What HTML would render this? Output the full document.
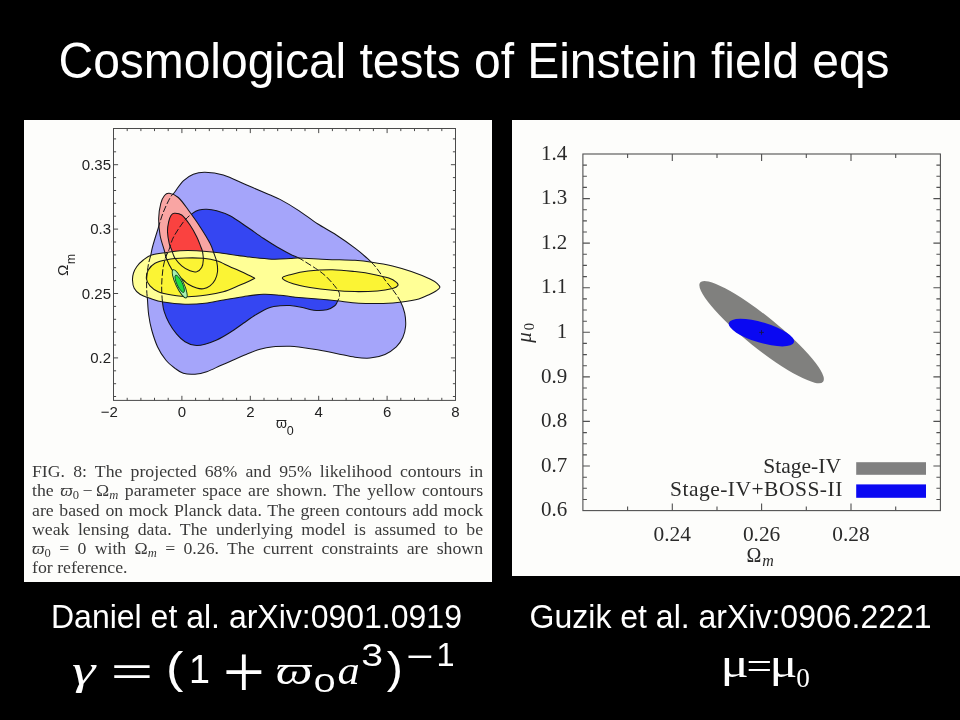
<!DOCTYPE html>
<html lang="en"><head><meta charset="utf-8"><title>Cosmological tests of Einstein field eqs</title>
<style>
html,body{margin:0;padding:0;background:#000;}
body{width:960px;height:720px;position:relative;overflow:hidden;font-family:"Liberation Sans",sans-serif;}
.abs{position:absolute;white-space:nowrap;}
#title{letter-spacing:-0.035px;left:58.5px;top:34.6px;font-size:48px;line-height:54px;color:#fff;transform:scaleY(1.055);transform-origin:0 43.64px;}
.cite{font-size:32px;line-height:36px;color:#fff;transform:scaleY(1.035);transform-origin:0 29.09px;}
#cap{left:32px;top:461.5px;width:413.8px;font-family:"Liberation Serif",serif;font-size:16.3px;line-height:19.25px;color:#3a3a3a;white-space:normal;transform:scaleX(1.09);transform-origin:0 0;will-change:transform;}
#cap div{text-align:justify;text-align-last:justify;white-space:nowrap;height:19.25px;}
#cap div.last{text-align:left;text-align-last:left;}
#cap sub{font-size:11.5px;vertical-align:-2.5px;line-height:0;}
#cap i{font-style:italic;}
svg{position:absolute;left:0;top:0;will-change:transform;}
svg text{font-family:"Liberation Sans",sans-serif;}
.ser{font-family:"Liberation Serif",serif !important;}
</style></head><body>

<svg width="960" height="720" viewBox="0 0 960 720">
<rect x="24" y="120" width="468" height="462" fill="#fdfdfb"/>
<rect x="512" y="120" width="448" height="456" fill="#fdfdfb"/>
<g id="leftchart">
<clipPath id="cl"><rect x="113.5" y="128.5" width="342" height="272"/></clipPath>
<g clip-path="url(#cl)">
<path d="M205.0 172.2 C210.0 172.3 216.4 172.9 223.3 175.0 C230.2 177.1 239.2 181.8 246.7 185.0 C254.2 188.2 262.8 191.8 268.3 194.2 C273.9 196.6 274.9 196.7 280.0 199.4 C285.1 202.1 292.6 206.5 298.8 210.6 C305.1 214.7 311.2 219.7 317.5 223.8 C323.8 227.9 330.1 230.9 336.3 235.0 C342.6 239.1 350.0 244.3 355.0 248.1 C360.0 251.8 362.9 254.4 366.3 257.5 C369.7 260.6 372.5 263.1 375.6 266.9 C378.7 270.6 382.2 276.2 385.0 280.0 C387.8 283.8 390.0 286.0 392.5 289.4 C395.0 292.8 398.0 296.7 400.0 300.6 C402.0 304.6 403.8 308.8 404.7 313.1 C405.6 317.4 405.9 322.2 405.6 326.3 C405.3 330.4 404.4 334.1 402.8 337.5 C401.2 340.9 399.3 344.1 396.3 346.9 C393.3 349.7 389.4 352.5 385.0 354.4 C380.6 356.3 375.0 357.6 370.0 358.1 C365.0 358.6 360.6 358.0 355.0 357.2 C349.4 356.4 342.6 354.6 336.3 353.4 C330.1 352.1 323.8 350.8 317.5 349.7 C311.2 348.6 303.4 347.5 298.8 346.9 C294.2 346.3 294.2 346.3 290.0 346.3 C285.8 346.3 278.3 346.2 273.3 346.7 C268.3 347.2 264.4 347.9 260.0 349.2 C255.6 350.4 251.1 352.4 246.7 354.2 C242.2 356.0 237.8 358.1 233.3 360.0 C228.9 361.9 224.4 363.9 220.0 365.8 C215.6 367.8 210.9 370.3 206.7 371.7 C202.5 373.1 198.9 373.9 195.0 374.2 C191.1 374.5 186.6 374.3 183.3 373.3 C180.0 372.3 177.9 370.5 175.0 368.3 C172.1 366.1 168.7 363.6 165.8 360.0 C162.9 356.4 159.8 351.7 157.5 346.7 C155.2 341.7 153.2 335.3 151.7 330.0 C150.2 324.7 149.4 320.0 148.7 315.0 C148.0 310.0 147.8 304.2 147.5 300.0 C147.2 295.8 146.8 293.6 146.7 290.0 C146.6 286.4 146.4 282.5 146.7 278.3 C147.0 274.1 147.6 268.9 148.3 265.0 C149.0 261.1 150.1 258.0 150.8 255.0 C151.5 252.0 151.5 250.8 152.5 247.0 C153.5 243.2 155.2 237.7 157.0 232.0 C158.8 226.3 160.8 218.7 163.0 213.0 C165.2 207.3 168.0 201.6 170.0 198.0 C172.0 194.4 172.8 194.6 175.0 191.7 C177.2 188.8 180.2 183.7 183.3 180.8 C186.4 177.9 189.7 175.6 193.3 174.2 C196.9 172.8 200.0 172.1 205.0 172.2Z" fill="#a5a5fa" stroke="#15151a" stroke-width="1.05" stroke-linejoin="round"/>
<path d="M206.7 209.2 C209.6 209.3 212.8 209.7 216.7 210.8 C220.6 211.9 225.0 213.2 230.0 215.8 C235.0 218.5 241.1 222.9 246.7 226.7 C252.2 230.4 258.3 235.0 263.3 238.3 C268.3 241.6 272.0 244.0 276.7 246.7 C281.4 249.4 287.6 252.8 291.3 254.7 C295.0 256.6 296.6 256.9 298.8 258.0 C301.0 259.1 301.3 259.4 304.4 261.3 C307.5 263.2 313.8 267.1 317.5 269.7 C321.2 272.3 324.1 274.5 326.9 277.2 C329.7 279.9 332.4 283.1 334.4 285.6 C336.4 288.1 338.2 290.3 339.0 292.2 C339.8 294.1 339.6 295.4 339.3 297.0 C339.0 298.6 338.0 300.5 337.2 302.0 C336.4 303.5 336.1 304.7 334.4 306.0 C332.7 307.3 330.3 309.1 326.9 309.8 C323.5 310.5 317.9 310.7 313.8 310.3 C309.7 309.9 306.5 308.3 302.5 307.5 C298.5 306.7 293.8 305.9 290.0 305.6 C286.2 305.3 283.3 305.5 280.0 305.8 C276.7 306.1 273.9 306.1 270.0 307.5 C266.1 308.9 261.1 311.6 256.7 314.2 C252.2 316.8 247.8 320.2 243.3 323.3 C238.9 326.4 234.4 329.7 230.0 332.5 C225.6 335.3 220.9 338.1 216.7 340.0 C212.5 341.9 208.6 343.3 205.0 344.2 C201.4 345.1 198.3 345.7 195.0 345.3 C191.7 344.9 188.1 343.6 185.0 341.7 C181.9 339.8 179.3 337.3 176.7 334.2 C174.1 331.1 171.3 327.1 169.2 323.3 C167.1 319.6 165.3 315.2 164.2 311.7 C163.1 308.2 162.9 306.1 162.5 302.5 C162.1 298.9 161.8 294.0 161.7 290.0 C161.6 286.0 161.7 282.2 162.0 278.3 C162.3 274.4 162.7 270.3 163.3 266.7 C163.9 263.1 164.8 259.6 165.8 256.7 C166.8 253.8 168.1 252.1 169.2 249.2 C170.3 246.3 171.0 242.5 172.5 239.2 C174.0 235.9 176.2 232.4 178.3 229.2 C180.4 226.0 182.6 222.7 185.0 220.0 C187.4 217.3 190.2 215.0 192.5 213.3 C194.8 211.6 196.6 210.7 199.0 210.0 C201.4 209.3 203.8 209.1 206.7 209.2Z" fill="#3546f2" stroke="#15151a" stroke-width="1.05" stroke-linejoin="round"/>
<path d="M169.2 193.3 C171.5 193.6 175.1 194.7 178.3 197.5 C181.5 200.3 184.7 205.1 188.3 210.0 C191.9 214.9 196.4 221.1 200.0 226.7 C203.6 232.2 207.8 239.1 210.0 243.3 C212.2 247.5 212.2 248.6 213.3 251.7 C214.4 254.8 216.0 258.4 216.7 261.7 C217.4 265.0 217.8 268.6 217.5 271.7 C217.2 274.8 216.2 277.6 215.0 280.0 C213.8 282.4 211.9 284.4 210.0 285.8 C208.1 287.2 205.5 288.3 203.3 288.7 C201.1 289.1 199.2 288.8 196.7 288.0 C194.2 287.2 190.5 285.5 188.3 284.2 C186.1 282.9 185.7 281.9 183.3 280.0 C181.0 278.1 176.5 275.2 174.2 272.7 C171.8 270.1 170.6 267.4 169.2 264.7 C167.8 262.0 166.6 259.1 165.8 256.7 C165.0 254.2 165.2 253.6 164.2 250.0 C163.2 246.4 160.9 240.3 160.0 235.0 C159.1 229.7 158.6 223.6 158.7 218.3 C158.8 213.0 159.8 207.1 160.8 203.3 C161.8 199.5 163.1 197.2 164.5 195.5 C165.9 193.8 166.9 193.0 169.2 193.3Z" fill="#f9a5a3" stroke="#15151a" stroke-width="1.05" stroke-linejoin="round"/>
<path d="M174.2 213.3 C176.0 213.2 179.1 213.1 181.7 215.0 C184.3 216.9 187.5 221.4 190.0 225.0 C192.5 228.6 194.9 233.1 196.7 236.7 C198.5 240.3 199.8 244.2 200.8 246.7 C201.8 249.2 202.1 249.5 202.5 251.7 C202.9 253.9 203.4 257.4 203.3 260.0 C203.2 262.6 202.8 265.6 201.7 267.5 C200.6 269.4 198.6 271.1 196.7 271.7 C194.8 272.2 192.5 271.8 190.0 270.8 C187.5 269.8 184.2 267.9 181.7 265.8 C179.2 263.7 176.7 260.9 175.0 258.3 C173.3 255.7 172.7 252.5 171.7 250.0 C170.7 247.5 169.9 246.4 169.2 243.3 C168.5 240.2 167.6 235.3 167.5 231.7 C167.4 228.1 168.1 224.4 168.7 221.7 C169.3 219.0 170.1 216.9 171.0 215.5 C171.9 214.1 172.4 213.4 174.2 213.3Z" fill="#fa4240" stroke="#15151a" stroke-width="1.05" stroke-linejoin="round"/>
<path d="M132.5 280.0 C132.4 277.4 132.8 275.2 133.5 273.0 C134.2 270.8 135.1 268.9 136.7 266.7 C138.3 264.5 140.8 261.9 143.3 260.0 C145.8 258.1 147.8 256.2 151.7 255.0 C155.6 253.8 162.0 253.2 166.7 252.5 C171.4 251.8 175.0 251.1 180.0 250.8 C185.0 250.5 190.6 250.5 196.7 250.8 C202.8 251.1 208.4 251.5 216.7 252.5 C225.0 253.5 237.5 255.6 246.7 256.7 C255.9 257.8 264.5 258.9 271.7 259.2 C278.9 259.5 285.5 258.8 290.0 258.6 C294.5 258.4 292.7 257.9 298.8 258.0 C304.9 258.1 317.5 259.0 326.9 259.4 C336.3 259.8 347.5 259.8 355.0 260.3 C362.5 260.8 365.6 261.2 371.9 262.2 C378.1 263.1 385.9 264.4 392.5 266.0 C399.1 267.6 405.1 269.4 411.3 271.6 C417.6 273.8 425.6 277.0 430.0 279.0 C434.4 281.0 435.9 282.4 437.5 283.8 C439.1 285.2 440.1 286.3 439.8 287.5 C439.6 288.7 437.6 289.9 436.0 291.0 C434.4 292.1 432.9 292.9 430.0 294.2 C427.1 295.5 423.5 297.6 418.8 298.9 C414.1 300.2 407.8 301.2 401.9 302.0 C395.9 302.8 390.3 303.2 383.1 303.4 C375.9 303.6 366.6 303.6 358.8 303.2 C351.0 302.8 343.2 301.4 336.3 300.7 C329.4 300.0 323.8 299.5 317.5 299.0 C311.2 298.5 303.4 297.9 298.8 297.5 C294.2 297.1 293.1 296.9 290.0 296.5 C286.9 296.1 284.4 295.6 280.0 295.2 C275.6 294.8 269.4 293.9 263.3 294.2 C257.2 294.4 250.0 295.7 243.3 296.7 C236.6 297.7 229.7 298.9 223.3 300.0 C216.9 301.1 211.4 302.6 205.0 303.3 C198.6 304.0 191.9 304.4 185.0 304.2 C178.1 304.0 169.1 303.0 163.3 302.0 C157.5 301.0 153.9 299.6 150.0 298.3 C146.1 297.0 142.6 295.9 140.0 294.2 C137.4 292.5 135.4 290.7 134.2 288.3 C132.9 285.9 132.6 282.6 132.5 280.0Z" fill="#ffff96"/>
<path d="M254.7 278.3 C253.9 278.7 252.7 279.6 250.0 280.8 C247.3 282.1 242.8 284.0 238.3 285.8 C233.9 287.6 228.6 290.2 223.3 291.7 C218.0 293.2 212.5 294.2 206.7 295.0 C200.9 295.8 194.1 296.7 188.3 296.7 C182.5 296.7 176.7 295.8 171.7 295.0 C166.7 294.2 161.9 293.2 158.3 291.7 C154.7 290.2 152.0 288.0 150.0 285.8 C148.0 283.6 146.6 280.9 146.3 278.3 C146.0 275.7 146.9 272.5 148.3 270.0 C149.8 267.5 151.9 265.0 155.0 263.3 C158.1 261.6 161.7 260.6 166.7 259.7 C171.7 258.8 178.9 258.2 185.0 258.0 C191.1 257.8 198.0 257.8 203.3 258.3 C208.6 258.8 212.2 259.4 216.7 260.8 C221.1 262.2 225.6 264.8 230.0 266.7 C234.4 268.6 239.2 270.6 243.3 272.5 C247.4 274.4 252.8 277.3 254.7 278.3Z" fill="#fbf434" stroke="#15151a" stroke-width="1.05" stroke-linejoin="round"/>
<path d="M282.3 278.1 C282.0 276.5 287.0 275.6 291.3 274.4 C295.6 273.2 301.2 271.8 308.1 271.0 C315.0 270.2 324.7 269.6 332.5 269.7 C340.3 269.8 348.1 270.8 355.0 271.6 C361.9 272.4 368.2 273.3 373.8 274.4 C379.4 275.5 385.0 276.8 388.8 278.1 C392.6 279.4 395.0 281.1 396.5 282.3 C398.0 283.6 398.5 284.6 397.8 285.6 C397.1 286.6 395.9 287.5 392.5 288.4 C389.1 289.3 383.8 290.4 377.5 290.9 C371.2 291.4 362.5 291.7 355.0 291.6 C347.5 291.5 340.0 291.0 332.5 290.3 C325.0 289.6 316.6 288.6 310.0 287.5 C303.4 286.4 297.7 285.4 293.1 283.8 C288.5 282.2 282.6 279.7 282.3 278.1Z" fill="#fbf434" stroke="#15151a" stroke-width="1.05" stroke-linejoin="round"/>
<clipPath id="cy"><path d="M132.5 280.0 C132.4 277.4 132.8 275.2 133.5 273.0 C134.2 270.8 135.1 268.9 136.7 266.7 C138.3 264.5 140.8 261.9 143.3 260.0 C145.8 258.1 147.8 256.2 151.7 255.0 C155.6 253.8 162.0 253.2 166.7 252.5 C171.4 251.8 175.0 251.1 180.0 250.8 C185.0 250.5 190.6 250.5 196.7 250.8 C202.8 251.1 208.4 251.5 216.7 252.5 C225.0 253.5 237.5 255.6 246.7 256.7 C255.9 257.8 264.5 258.9 271.7 259.2 C278.9 259.5 285.5 258.8 290.0 258.6 C294.5 258.4 292.7 257.9 298.8 258.0 C304.9 258.1 317.5 259.0 326.9 259.4 C336.3 259.8 347.5 259.8 355.0 260.3 C362.5 260.8 365.6 261.2 371.9 262.2 C378.1 263.1 385.9 264.4 392.5 266.0 C399.1 267.6 405.1 269.4 411.3 271.6 C417.6 273.8 425.6 277.0 430.0 279.0 C434.4 281.0 435.9 282.4 437.5 283.8 C439.1 285.2 440.1 286.3 439.8 287.5 C439.6 288.7 437.6 289.9 436.0 291.0 C434.4 292.1 432.9 292.9 430.0 294.2 C427.1 295.5 423.5 297.6 418.8 298.9 C414.1 300.2 407.8 301.2 401.9 302.0 C395.9 302.8 390.3 303.2 383.1 303.4 C375.9 303.6 366.6 303.6 358.8 303.2 C351.0 302.8 343.2 301.4 336.3 300.7 C329.4 300.0 323.8 299.5 317.5 299.0 C311.2 298.5 303.4 297.9 298.8 297.5 C294.2 297.1 293.1 296.9 290.0 296.5 C286.9 296.1 284.4 295.6 280.0 295.2 C275.6 294.8 269.4 293.9 263.3 294.2 C257.2 294.4 250.0 295.7 243.3 296.7 C236.6 297.7 229.7 298.9 223.3 300.0 C216.9 301.1 211.4 302.6 205.0 303.3 C198.6 304.0 191.9 304.4 185.0 304.2 C178.1 304.0 169.1 303.0 163.3 302.0 C157.5 301.0 153.9 299.6 150.0 298.3 C146.1 297.0 142.6 295.9 140.0 294.2 C137.4 292.5 135.4 290.7 134.2 288.3 C132.9 285.9 132.6 282.6 132.5 280.0Z"/></clipPath>
<clipPath id="cp"><path d="M169.2 193.3 C171.5 193.6 175.1 194.7 178.3 197.5 C181.5 200.3 184.7 205.1 188.3 210.0 C191.9 214.9 196.4 221.1 200.0 226.7 C203.6 232.2 207.8 239.1 210.0 243.3 C212.2 247.5 212.2 248.6 213.3 251.7 C214.4 254.8 216.0 258.4 216.7 261.7 C217.4 265.0 217.8 268.6 217.5 271.7 C217.2 274.8 216.2 277.6 215.0 280.0 C213.8 282.4 211.9 284.4 210.0 285.8 C208.1 287.2 205.5 288.3 203.3 288.7 C201.1 289.1 199.2 288.8 196.7 288.0 C194.2 287.2 190.5 285.5 188.3 284.2 C186.1 282.9 185.7 281.9 183.3 280.0 C181.0 278.1 176.5 275.2 174.2 272.7 C171.8 270.1 170.6 267.4 169.2 264.7 C167.8 262.0 166.6 259.1 165.8 256.7 C165.0 254.2 165.2 253.6 164.2 250.0 C163.2 246.4 160.9 240.3 160.0 235.0 C159.1 229.7 158.6 223.6 158.7 218.3 C158.8 213.0 159.8 207.1 160.8 203.3 C161.8 199.5 163.1 197.2 164.5 195.5 C165.9 193.8 166.9 193.0 169.2 193.3Z"/></clipPath>
<g clip-path="url(#cy)"><path d="M205.0 172.2 C210.0 172.3 216.4 172.9 223.3 175.0 C230.2 177.1 239.2 181.8 246.7 185.0 C254.2 188.2 262.8 191.8 268.3 194.2 C273.9 196.6 274.9 196.7 280.0 199.4 C285.1 202.1 292.6 206.5 298.8 210.6 C305.1 214.7 311.2 219.7 317.5 223.8 C323.8 227.9 330.1 230.9 336.3 235.0 C342.6 239.1 350.0 244.3 355.0 248.1 C360.0 251.8 362.9 254.4 366.3 257.5 C369.7 260.6 372.5 263.1 375.6 266.9 C378.7 270.6 382.2 276.2 385.0 280.0 C387.8 283.8 390.0 286.0 392.5 289.4 C395.0 292.8 398.0 296.7 400.0 300.6 C402.0 304.6 403.8 308.8 404.7 313.1 C405.6 317.4 405.9 322.2 405.6 326.3 C405.3 330.4 404.4 334.1 402.8 337.5 C401.2 340.9 399.3 344.1 396.3 346.9 C393.3 349.7 389.4 352.5 385.0 354.4 C380.6 356.3 375.0 357.6 370.0 358.1 C365.0 358.6 360.6 358.0 355.0 357.2 C349.4 356.4 342.6 354.6 336.3 353.4 C330.1 352.1 323.8 350.8 317.5 349.7 C311.2 348.6 303.4 347.5 298.8 346.9 C294.2 346.3 294.2 346.3 290.0 346.3 C285.8 346.3 278.3 346.2 273.3 346.7 C268.3 347.2 264.4 347.9 260.0 349.2 C255.6 350.4 251.1 352.4 246.7 354.2 C242.2 356.0 237.8 358.1 233.3 360.0 C228.9 361.9 224.4 363.9 220.0 365.8 C215.6 367.8 210.9 370.3 206.7 371.7 C202.5 373.1 198.9 373.9 195.0 374.2 C191.1 374.5 186.6 374.3 183.3 373.3 C180.0 372.3 177.9 370.5 175.0 368.3 C172.1 366.1 168.7 363.6 165.8 360.0 C162.9 356.4 159.8 351.7 157.5 346.7 C155.2 341.7 153.2 335.3 151.7 330.0 C150.2 324.7 149.4 320.0 148.7 315.0 C148.0 310.0 147.8 304.2 147.5 300.0 C147.2 295.8 146.8 293.6 146.7 290.0 C146.6 286.4 146.4 282.5 146.7 278.3 C147.0 274.1 147.6 268.9 148.3 265.0 C149.0 261.1 150.1 258.0 150.8 255.0 C151.5 252.0 151.5 250.8 152.5 247.0 C153.5 243.2 155.2 237.7 157.0 232.0 C158.8 226.3 160.8 218.7 163.0 213.0 C165.2 207.3 168.0 201.6 170.0 198.0 C172.0 194.4 172.8 194.6 175.0 191.7 C177.2 188.8 180.2 183.7 183.3 180.8 C186.4 177.9 189.7 175.6 193.3 174.2 C196.9 172.8 200.0 172.1 205.0 172.2Z" fill="none" stroke="#15151a" stroke-width="1" stroke-dasharray="6.5 2.2"/><path d="M206.7 209.2 C209.6 209.3 212.8 209.7 216.7 210.8 C220.6 211.9 225.0 213.2 230.0 215.8 C235.0 218.5 241.1 222.9 246.7 226.7 C252.2 230.4 258.3 235.0 263.3 238.3 C268.3 241.6 272.0 244.0 276.7 246.7 C281.4 249.4 287.6 252.8 291.3 254.7 C295.0 256.6 296.6 256.9 298.8 258.0 C301.0 259.1 301.3 259.4 304.4 261.3 C307.5 263.2 313.8 267.1 317.5 269.7 C321.2 272.3 324.1 274.5 326.9 277.2 C329.7 279.9 332.4 283.1 334.4 285.6 C336.4 288.1 338.2 290.3 339.0 292.2 C339.8 294.1 339.6 295.4 339.3 297.0 C339.0 298.6 338.0 300.5 337.2 302.0 C336.4 303.5 336.1 304.7 334.4 306.0 C332.7 307.3 330.3 309.1 326.9 309.8 C323.5 310.5 317.9 310.7 313.8 310.3 C309.7 309.9 306.5 308.3 302.5 307.5 C298.5 306.7 293.8 305.9 290.0 305.6 C286.2 305.3 283.3 305.5 280.0 305.8 C276.7 306.1 273.9 306.1 270.0 307.5 C266.1 308.9 261.1 311.6 256.7 314.2 C252.2 316.8 247.8 320.2 243.3 323.3 C238.9 326.4 234.4 329.7 230.0 332.5 C225.6 335.3 220.9 338.1 216.7 340.0 C212.5 341.9 208.6 343.3 205.0 344.2 C201.4 345.1 198.3 345.7 195.0 345.3 C191.7 344.9 188.1 343.6 185.0 341.7 C181.9 339.8 179.3 337.3 176.7 334.2 C174.1 331.1 171.3 327.1 169.2 323.3 C167.1 319.6 165.3 315.2 164.2 311.7 C163.1 308.2 162.9 306.1 162.5 302.5 C162.1 298.9 161.8 294.0 161.7 290.0 C161.6 286.0 161.7 282.2 162.0 278.3 C162.3 274.4 162.7 270.3 163.3 266.7 C163.9 263.1 164.8 259.6 165.8 256.7 C166.8 253.8 168.1 252.1 169.2 249.2 C170.3 246.3 171.0 242.5 172.5 239.2 C174.0 235.9 176.2 232.4 178.3 229.2 C180.4 226.0 182.6 222.7 185.0 220.0 C187.4 217.3 190.2 215.0 192.5 213.3 C194.8 211.6 196.6 210.7 199.0 210.0 C201.4 209.3 203.8 209.1 206.7 209.2Z" fill="none" stroke="#15151a" stroke-width="1" stroke-dasharray="6.5 2.2"/>
<path d="M169.2 193.3 C171.5 193.6 175.1 194.7 178.3 197.5 C181.5 200.3 184.7 205.1 188.3 210.0 C191.9 214.9 196.4 221.1 200.0 226.7 C203.6 232.2 207.8 239.1 210.0 243.3 C212.2 247.5 212.2 248.6 213.3 251.7 C214.4 254.8 216.0 258.4 216.7 261.7 C217.4 265.0 217.8 268.6 217.5 271.7 C217.2 274.8 216.2 277.6 215.0 280.0 C213.8 282.4 211.9 284.4 210.0 285.8 C208.1 287.2 205.5 288.3 203.3 288.7 C201.1 289.1 199.2 288.8 196.7 288.0 C194.2 287.2 190.5 285.5 188.3 284.2 C186.1 282.9 185.7 281.9 183.3 280.0 C181.0 278.1 176.5 275.2 174.2 272.7 C171.8 270.1 170.6 267.4 169.2 264.7 C167.8 262.0 166.6 259.1 165.8 256.7 C165.0 254.2 165.2 253.6 164.2 250.0 C163.2 246.4 160.9 240.3 160.0 235.0 C159.1 229.7 158.6 223.6 158.7 218.3 C158.8 213.0 159.8 207.1 160.8 203.3 C161.8 199.5 163.1 197.2 164.5 195.5 C165.9 193.8 166.9 193.0 169.2 193.3Z" fill="none" stroke="#15151a" stroke-width="1.05" stroke-linejoin="round"/><path d="M174.2 213.3 C176.0 213.2 179.1 213.1 181.7 215.0 C184.3 216.9 187.5 221.4 190.0 225.0 C192.5 228.6 194.9 233.1 196.7 236.7 C198.5 240.3 199.8 244.2 200.8 246.7 C201.8 249.2 202.1 249.5 202.5 251.7 C202.9 253.9 203.4 257.4 203.3 260.0 C203.2 262.6 202.8 265.6 201.7 267.5 C200.6 269.4 198.6 271.1 196.7 271.7 C194.8 272.2 192.5 271.8 190.0 270.8 C187.5 269.8 184.2 267.9 181.7 265.8 C179.2 263.7 176.7 260.9 175.0 258.3 C173.3 255.7 172.7 252.5 171.7 250.0 C170.7 247.5 169.9 246.4 169.2 243.3 C168.5 240.2 167.6 235.3 167.5 231.7 C167.4 228.1 168.1 224.4 168.7 221.7 C169.3 219.0 170.1 216.9 171.0 215.5 C171.9 214.1 172.4 213.4 174.2 213.3Z" fill="none" stroke="#15151a" stroke-width="1.05" stroke-linejoin="round"/></g>
<g clip-path="url(#cp)"><path d="M205.0 172.2 C210.0 172.3 216.4 172.9 223.3 175.0 C230.2 177.1 239.2 181.8 246.7 185.0 C254.2 188.2 262.8 191.8 268.3 194.2 C273.9 196.6 274.9 196.7 280.0 199.4 C285.1 202.1 292.6 206.5 298.8 210.6 C305.1 214.7 311.2 219.7 317.5 223.8 C323.8 227.9 330.1 230.9 336.3 235.0 C342.6 239.1 350.0 244.3 355.0 248.1 C360.0 251.8 362.9 254.4 366.3 257.5 C369.7 260.6 372.5 263.1 375.6 266.9 C378.7 270.6 382.2 276.2 385.0 280.0 C387.8 283.8 390.0 286.0 392.5 289.4 C395.0 292.8 398.0 296.7 400.0 300.6 C402.0 304.6 403.8 308.8 404.7 313.1 C405.6 317.4 405.9 322.2 405.6 326.3 C405.3 330.4 404.4 334.1 402.8 337.5 C401.2 340.9 399.3 344.1 396.3 346.9 C393.3 349.7 389.4 352.5 385.0 354.4 C380.6 356.3 375.0 357.6 370.0 358.1 C365.0 358.6 360.6 358.0 355.0 357.2 C349.4 356.4 342.6 354.6 336.3 353.4 C330.1 352.1 323.8 350.8 317.5 349.7 C311.2 348.6 303.4 347.5 298.8 346.9 C294.2 346.3 294.2 346.3 290.0 346.3 C285.8 346.3 278.3 346.2 273.3 346.7 C268.3 347.2 264.4 347.9 260.0 349.2 C255.6 350.4 251.1 352.4 246.7 354.2 C242.2 356.0 237.8 358.1 233.3 360.0 C228.9 361.9 224.4 363.9 220.0 365.8 C215.6 367.8 210.9 370.3 206.7 371.7 C202.5 373.1 198.9 373.9 195.0 374.2 C191.1 374.5 186.6 374.3 183.3 373.3 C180.0 372.3 177.9 370.5 175.0 368.3 C172.1 366.1 168.7 363.6 165.8 360.0 C162.9 356.4 159.8 351.7 157.5 346.7 C155.2 341.7 153.2 335.3 151.7 330.0 C150.2 324.7 149.4 320.0 148.7 315.0 C148.0 310.0 147.8 304.2 147.5 300.0 C147.2 295.8 146.8 293.6 146.7 290.0 C146.6 286.4 146.4 282.5 146.7 278.3 C147.0 274.1 147.6 268.9 148.3 265.0 C149.0 261.1 150.1 258.0 150.8 255.0 C151.5 252.0 151.5 250.8 152.5 247.0 C153.5 243.2 155.2 237.7 157.0 232.0 C158.8 226.3 160.8 218.7 163.0 213.0 C165.2 207.3 168.0 201.6 170.0 198.0 C172.0 194.4 172.8 194.6 175.0 191.7 C177.2 188.8 180.2 183.7 183.3 180.8 C186.4 177.9 189.7 175.6 193.3 174.2 C196.9 172.8 200.0 172.1 205.0 172.2Z" fill="none" stroke="#15151a" stroke-width="1" stroke-dasharray="6.5 2.2"/><path d="M206.7 209.2 C209.6 209.3 212.8 209.7 216.7 210.8 C220.6 211.9 225.0 213.2 230.0 215.8 C235.0 218.5 241.1 222.9 246.7 226.7 C252.2 230.4 258.3 235.0 263.3 238.3 C268.3 241.6 272.0 244.0 276.7 246.7 C281.4 249.4 287.6 252.8 291.3 254.7 C295.0 256.6 296.6 256.9 298.8 258.0 C301.0 259.1 301.3 259.4 304.4 261.3 C307.5 263.2 313.8 267.1 317.5 269.7 C321.2 272.3 324.1 274.5 326.9 277.2 C329.7 279.9 332.4 283.1 334.4 285.6 C336.4 288.1 338.2 290.3 339.0 292.2 C339.8 294.1 339.6 295.4 339.3 297.0 C339.0 298.6 338.0 300.5 337.2 302.0 C336.4 303.5 336.1 304.7 334.4 306.0 C332.7 307.3 330.3 309.1 326.9 309.8 C323.5 310.5 317.9 310.7 313.8 310.3 C309.7 309.9 306.5 308.3 302.5 307.5 C298.5 306.7 293.8 305.9 290.0 305.6 C286.2 305.3 283.3 305.5 280.0 305.8 C276.7 306.1 273.9 306.1 270.0 307.5 C266.1 308.9 261.1 311.6 256.7 314.2 C252.2 316.8 247.8 320.2 243.3 323.3 C238.9 326.4 234.4 329.7 230.0 332.5 C225.6 335.3 220.9 338.1 216.7 340.0 C212.5 341.9 208.6 343.3 205.0 344.2 C201.4 345.1 198.3 345.7 195.0 345.3 C191.7 344.9 188.1 343.6 185.0 341.7 C181.9 339.8 179.3 337.3 176.7 334.2 C174.1 331.1 171.3 327.1 169.2 323.3 C167.1 319.6 165.3 315.2 164.2 311.7 C163.1 308.2 162.9 306.1 162.5 302.5 C162.1 298.9 161.8 294.0 161.7 290.0 C161.6 286.0 161.7 282.2 162.0 278.3 C162.3 274.4 162.7 270.3 163.3 266.7 C163.9 263.1 164.8 259.6 165.8 256.7 C166.8 253.8 168.1 252.1 169.2 249.2 C170.3 246.3 171.0 242.5 172.5 239.2 C174.0 235.9 176.2 232.4 178.3 229.2 C180.4 226.0 182.6 222.7 185.0 220.0 C187.4 217.3 190.2 215.0 192.5 213.3 C194.8 211.6 196.6 210.7 199.0 210.0 C201.4 209.3 203.8 209.1 206.7 209.2Z" fill="none" stroke="#15151a" stroke-width="1" stroke-dasharray="6.5 2.2"/></g>
<path d="M132.5 280.0 C132.4 277.4 132.8 275.2 133.5 273.0 C134.2 270.8 135.1 268.9 136.7 266.7 C138.3 264.5 140.8 261.9 143.3 260.0 C145.8 258.1 147.8 256.2 151.7 255.0 C155.6 253.8 162.0 253.2 166.7 252.5 C171.4 251.8 175.0 251.1 180.0 250.8 C185.0 250.5 190.6 250.5 196.7 250.8 C202.8 251.1 208.4 251.5 216.7 252.5 C225.0 253.5 237.5 255.6 246.7 256.7 C255.9 257.8 264.5 258.9 271.7 259.2 C278.9 259.5 285.5 258.8 290.0 258.6 C294.5 258.4 292.7 257.9 298.8 258.0 C304.9 258.1 317.5 259.0 326.9 259.4 C336.3 259.8 347.5 259.8 355.0 260.3 C362.5 260.8 365.6 261.2 371.9 262.2 C378.1 263.1 385.9 264.4 392.5 266.0 C399.1 267.6 405.1 269.4 411.3 271.6 C417.6 273.8 425.6 277.0 430.0 279.0 C434.4 281.0 435.9 282.4 437.5 283.8 C439.1 285.2 440.1 286.3 439.8 287.5 C439.6 288.7 437.6 289.9 436.0 291.0 C434.4 292.1 432.9 292.9 430.0 294.2 C427.1 295.5 423.5 297.6 418.8 298.9 C414.1 300.2 407.8 301.2 401.9 302.0 C395.9 302.8 390.3 303.2 383.1 303.4 C375.9 303.6 366.6 303.6 358.8 303.2 C351.0 302.8 343.2 301.4 336.3 300.7 C329.4 300.0 323.8 299.5 317.5 299.0 C311.2 298.5 303.4 297.9 298.8 297.5 C294.2 297.1 293.1 296.9 290.0 296.5 C286.9 296.1 284.4 295.6 280.0 295.2 C275.6 294.8 269.4 293.9 263.3 294.2 C257.2 294.4 250.0 295.7 243.3 296.7 C236.6 297.7 229.7 298.9 223.3 300.0 C216.9 301.1 211.4 302.6 205.0 303.3 C198.6 304.0 191.9 304.4 185.0 304.2 C178.1 304.0 169.1 303.0 163.3 302.0 C157.5 301.0 153.9 299.6 150.0 298.3 C146.1 297.0 142.6 295.9 140.0 294.2 C137.4 292.5 135.4 290.7 134.2 288.3 C132.9 285.9 132.6 282.6 132.5 280.0Z" fill="none" stroke="#15151a" stroke-width="1.05" stroke-linejoin="round"/>
<g transform="translate(179.7 283.8) rotate(64.8)"><ellipse rx="15.5" ry="3.9" fill="#a9efb0" stroke="#0d3a1a" stroke-width="0.9"/><ellipse rx="9.5" ry="2.7" fill="#1fdc40" stroke="#0d3a1a" stroke-width="0.8"/></g>
</g>
<rect x="113.5" y="128.5" width="342" height="271.9" fill="none" stroke="#4a4a4a" stroke-width="1"/>
<path d="M127.2 400.4v-2.6 M127.2 128.5v2.6 M140.9 400.4v-2.6 M140.9 128.5v2.6 M154.5 400.4v-2.6 M154.5 128.5v2.6 M168.2 400.4v-2.6 M168.2 128.5v2.6 M181.9 400.4v-4.6 M181.9 128.5v4.6 M195.6 400.4v-2.6 M195.6 128.5v2.6 M209.3 400.4v-2.6 M209.3 128.5v2.6 M222.9 400.4v-2.6 M222.9 128.5v2.6 M236.6 400.4v-2.6 M236.6 128.5v2.6 M250.3 400.4v-4.6 M250.3 128.5v4.6 M264.0 400.4v-2.6 M264.0 128.5v2.6 M277.7 400.4v-2.6 M277.7 128.5v2.6 M291.3 400.4v-2.6 M291.3 128.5v2.6 M305.0 400.4v-2.6 M305.0 128.5v2.6 M318.7 400.4v-4.6 M318.7 128.5v4.6 M332.4 400.4v-2.6 M332.4 128.5v2.6 M346.1 400.4v-2.6 M346.1 128.5v2.6 M359.7 400.4v-2.6 M359.7 128.5v2.6 M373.4 400.4v-2.6 M373.4 128.5v2.6 M387.1 400.4v-4.6 M387.1 128.5v4.6 M400.8 400.4v-2.6 M400.8 128.5v2.6 M414.5 400.4v-2.6 M414.5 128.5v2.6 M428.1 400.4v-2.6 M428.1 128.5v2.6 M441.8 400.4v-2.6 M441.8 128.5v2.6 M113.5 396.5h2.6 M455.5 396.5h-2.6 M113.5 383.7h2.6 M455.5 383.7h-2.6 M113.5 370.8h2.6 M455.5 370.8h-2.6 M113.5 357.9h4.6 M455.5 357.9h-4.6 M113.5 345.0h2.6 M455.5 345.0h-2.6 M113.5 332.1h2.6 M455.5 332.1h-2.6 M113.5 319.3h2.6 M455.5 319.3h-2.6 M113.5 306.4h2.6 M455.5 306.4h-2.6 M113.5 293.5h4.6 M455.5 293.5h-4.6 M113.5 280.6h2.6 M455.5 280.6h-2.6 M113.5 267.7h2.6 M455.5 267.7h-2.6 M113.5 254.9h2.6 M455.5 254.9h-2.6 M113.5 242.0h2.6 M455.5 242.0h-2.6 M113.5 229.1h4.6 M455.5 229.1h-4.6 M113.5 216.2h2.6 M455.5 216.2h-2.6 M113.5 203.3h2.6 M455.5 203.3h-2.6 M113.5 190.5h2.6 M455.5 190.5h-2.6 M113.5 177.6h2.6 M455.5 177.6h-2.6 M113.5 164.7h4.6 M455.5 164.7h-4.6 M113.5 151.8h2.6 M455.5 151.8h-2.6 M113.5 138.9h2.6 M455.5 138.9h-2.6" stroke="#4a4a4a" stroke-width="1" fill="none"/>
<text x="109.3" y="417.4" font-size="15" text-anchor="middle" fill="#222">−2</text>
<text x="181.9" y="417.4" font-size="15" text-anchor="middle" fill="#222">0</text>
<text x="250.3" y="417.4" font-size="15" text-anchor="middle" fill="#222">2</text>
<text x="318.7" y="417.4" font-size="15" text-anchor="middle" fill="#222">4</text>
<text x="387.1" y="417.4" font-size="15" text-anchor="middle" fill="#222">6</text>
<text x="455.5" y="417.4" font-size="15" text-anchor="middle" fill="#222">8</text>
<text x="111" y="170.0" font-size="15" text-anchor="end" fill="#222">0.35</text>
<text x="111" y="234.4" font-size="15" text-anchor="end" fill="#222">0.3</text>
<text x="111" y="298.8" font-size="15" text-anchor="end" fill="#222">0.25</text>
<text x="111" y="363.2" font-size="15" text-anchor="end" fill="#222">0.2</text>
<text x="276" y="427.6" font-size="14" fill="#222">ϖ</text><text x="286.8" y="435" font-size="12.5" fill="#222">0</text>
<text transform="translate(67.6 276) rotate(-90)" font-size="15.2" fill="#222">Ω</text><text transform="translate(74.6 264) rotate(-90)" font-size="12" fill="#222">m</text>
</g>
<g id="rightchart">
<g transform="translate(761.6 332.1) rotate(38.9)"><ellipse rx="79" ry="15.8" fill="#80807e"/></g>
<g transform="translate(761.4 332.6) rotate(16.6)"><ellipse rx="34" ry="10.2" fill="#0a08f2"/></g>
<path d="M759.2 332.4h4.6M761.5 330.1v4.6" stroke="#15154a" stroke-width="0.9"/>
<rect x="582.9" y="154" width="357.5" height="356.6" fill="none" stroke="#505050" stroke-width="1.1"/>
<path d="M627.6 510.6v-4 M627.6 154v4 M672.3 510.6v-7 M672.3 154v7 M717.0 510.6v-4 M717.0 154v4 M761.6 510.6v-7 M761.6 154v7 M806.3 510.6v-4 M806.3 154v4 M851.0 510.6v-7 M851.0 154v7 M895.7 510.6v-4 M895.7 154v4 M582.9 499.5h4 M940.4 499.5h-4 M582.9 488.3h4 M940.4 488.3h-4 M582.9 477.2h4 M940.4 477.2h-4 M582.9 466.0h7 M940.4 466.0h-7 M582.9 454.9h4 M940.4 454.9h-4 M582.9 443.7h4 M940.4 443.7h-4 M582.9 432.6h4 M940.4 432.6h-4 M582.9 421.4h7 M940.4 421.4h-7 M582.9 410.3h4 M940.4 410.3h-4 M582.9 399.2h4 M940.4 399.2h-4 M582.9 388.0h4 M940.4 388.0h-4 M582.9 376.9h7 M940.4 376.9h-7 M582.9 365.7h4 M940.4 365.7h-4 M582.9 354.6h4 M940.4 354.6h-4 M582.9 343.4h4 M940.4 343.4h-4 M582.9 332.3h7 M940.4 332.3h-7 M582.9 321.2h4 M940.4 321.2h-4 M582.9 310.0h4 M940.4 310.0h-4 M582.9 298.9h4 M940.4 298.9h-4 M582.9 287.7h7 M940.4 287.7h-7 M582.9 276.6h4 M940.4 276.6h-4 M582.9 265.4h4 M940.4 265.4h-4 M582.9 254.3h4 M940.4 254.3h-4 M582.9 243.1h7 M940.4 243.1h-7 M582.9 232.0h4 M940.4 232.0h-4 M582.9 220.9h4 M940.4 220.9h-4 M582.9 209.7h4 M940.4 209.7h-4 M582.9 198.6h7 M940.4 198.6h-7 M582.9 187.4h4 M940.4 187.4h-4 M582.9 176.3h4 M940.4 176.3h-4 M582.9 165.1h4 M940.4 165.1h-4" stroke="#505050" stroke-width="1.1" fill="none"/>
<text class="ser" x="567.3" y="159.6" font-size="21" text-anchor="end" fill="#2a2a2a">1.4</text>
<text class="ser" x="567.3" y="204.2" font-size="21" text-anchor="end" fill="#2a2a2a">1.3</text>
<text class="ser" x="567.3" y="248.7" font-size="21" text-anchor="end" fill="#2a2a2a">1.2</text>
<text class="ser" x="567.3" y="293.3" font-size="21" text-anchor="end" fill="#2a2a2a">1.1</text>
<text class="ser" x="567.3" y="337.9" font-size="21" text-anchor="end" fill="#2a2a2a">1</text>
<text class="ser" x="567.3" y="382.5" font-size="21" text-anchor="end" fill="#2a2a2a">0.9</text>
<text class="ser" x="567.3" y="427.0" font-size="21" text-anchor="end" fill="#2a2a2a">0.8</text>
<text class="ser" x="567.3" y="471.6" font-size="21" text-anchor="end" fill="#2a2a2a">0.7</text>
<text class="ser" x="567.3" y="516.2" font-size="21" text-anchor="end" fill="#2a2a2a">0.6</text>
<text class="ser" x="672.3" y="541.3" font-size="21.4" text-anchor="middle" fill="#2a2a2a">0.24</text>
<text class="ser" x="761.6" y="541.3" font-size="21.4" text-anchor="middle" fill="#2a2a2a">0.26</text>
<text class="ser" x="851.0" y="541.3" font-size="21.4" text-anchor="middle" fill="#2a2a2a">0.28</text>
<text class="ser" x="746.5" y="562" font-size="20" fill="#2a2a2a">Ω</text><text class="ser" x="762.3" y="566.2" font-size="16" font-style="italic" fill="#2a2a2a">m</text>
<text class="ser" transform="translate(531 342.7) rotate(-90)" font-size="21" font-style="italic" fill="#2a2a2a">μ</text><text class="ser" transform="translate(534.2 330.2) rotate(-90)" font-size="14.5" fill="#2a2a2a">0</text>
<text class="ser" x="841" y="473.1" font-size="21.5" text-anchor="end" textLength="77.7" lengthAdjust="spacing" fill="#2a2a2a">Stage-IV</text>
<text class="ser" x="842.3" y="496" font-size="21.5" text-anchor="end" textLength="172.3" lengthAdjust="spacing" fill="#2a2a2a">Stage-IV+BOSS-II</text>
<rect x="856.2" y="462.2" width="69.8" height="12.6" fill="#808080"/><rect x="856.2" y="484.4" width="69.8" height="13.4" fill="#0a08f2"/>
</g>
<g id="eq1">
<text class="ser" font-style="italic" transform="matrix(0.5902 0 0 0.4104 71.91 683.88)" font-size="100" fill="#fff">γ</text>
<text transform="matrix(0.7260 0 0 0.3939 110.80 684.70)" font-size="100" fill="#fff">=</text>
<text transform="matrix(0.5222 0 0 0.4436 166.07 683.18)" font-size="100" fill="#fff">(</text>
<text transform="matrix(0.3773 0 0 0.4101 189.06 683.30)" font-size="100" fill="#fff">1</text>
<text class="ser" transform="matrix(0.7479 0 0 0.7553 222.81 697.25)" font-size="100" fill="#fff">+</text>
<text class="ser" font-style="italic" transform="matrix(0.5188 0 0 0.4149 275.66 683.79)" font-size="100" fill="#fff">ϖ</text>
<text transform="matrix(0.3918 0 0 0.2648 313.82 692.24)" font-size="100" fill="#fff">0</text>
<text class="ser" font-style="italic" transform="matrix(0.4444 0 0 0.4062 337.41 683.79)" font-size="100" fill="#fff">a</text>
<text transform="matrix(0.3918 0 0 0.3169 361.32 666.38)" font-size="100" fill="#fff">3</text>
<text transform="matrix(0.4857 0 0 0.4436 386.70 683.18)" font-size="100" fill="#fff">)</text>
<text transform="matrix(0.4660 0 0 0.3375 406.14 667.79)" font-size="100" fill="#fff">−</text>
<text transform="matrix(0.3250 0 0 0.3261 436.43 665.80)" font-size="100" fill="#fff">1</text>
</g>
<g id="eq2">
<text class="ser" transform="matrix(0.5286 0 0 0.4224 720.57 676.63)" font-size="100" fill="#fff">μ</text>
<text class="ser" transform="matrix(0.4542 0 0 0.4000 746.38 680.40)" font-size="100" fill="#fff">=</text>
<text class="ser" transform="matrix(0.5214 0 0 0.4224 769.43 676.63)" font-size="100" fill="#fff">μ</text>
<text class="ser" transform="matrix(0.2727 0 0 0.2779 796.18 687.24)" font-size="100" fill="#fff">0</text>
</g>
</svg>
<div id="title" class="abs">Cosmological tests of Einstein field eqs</div>
<div class="abs cite" style="left:51px;top:598.8px">Daniel et al. arXiv:0901.0919</div>
<div class="abs cite" style="left:529.6px;top:598.8px">Guzik et al. arXiv:0906.2221</div>
<div id="cap" class="abs">
<div>FIG. 8: The projected 68% and 95% likelihood contours in</div>
<div>the <i>ϖ</i><sub>0</sub>&#8201;−&#8201;Ω<sub><i>m</i></sub> parameter space are shown. The yellow contours</div>
<div>are based on mock Planck data. The green contours add mock</div>
<div>weak lensing data. The underlying model is assumed to be</div>
<div><i>ϖ</i><sub>0</sub> = 0 with Ω<sub><i>m</i></sub> = 0.26. The current constraints are shown</div>
<div class="last">for reference.</div>
</div>
</body></html>
